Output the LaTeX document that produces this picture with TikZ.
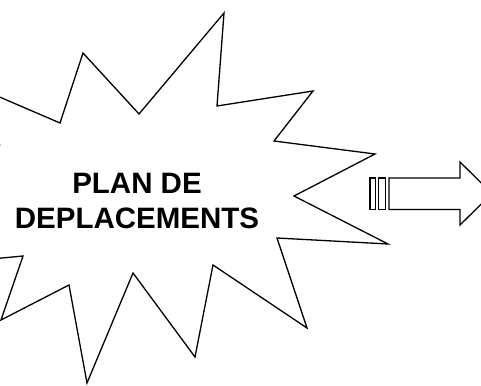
\documentclass[tikz,border=0pt]{standalone}
\usepackage{fontspec}
\setmainfont{Liberation Sans}
\usetikzlibrary{positioning}
\tikzset{
  burst/.style={draw=black, line width=1.3pt, line join=miter, fill=white},
  stripe/.style={draw=black, line width=1.1pt, fill=white},
  label/.style={align=center, inner sep=0pt, font=\fontsize{29.5}{35}\selectfont\bfseries}
}
\begin{document}
\begin{tikzpicture}[x=1pt, y=-1pt]

            % Cadre de l'image
            \useasboundingbox (0,0) rectangle (481,385);
            \clip (0,0) rectangle (481,385);

            % Explosion
            \draw [burst] (60,123) -- (83,53) -- (139,114) -- (224,13) -- (217,106) -- (313,91)
              -- (274,141) -- (375,154) -- (294,196) -- (388,244) -- (277,238) -- (307,328)
              -- (213,265) -- (195,357) -- (133,273) -- (87,383) -- (69,285) -- (1,320)
              -- (23,256) -- (-40,262) -- (-0.3,145) -- (-40,80) -- cycle;

            % Texte
            \node (plan) [label] at (137,200.5) {PLAN DE\\DEPLACEMENTS};

            % Fleche rayee
            \draw [stripe] (370,178) rectangle (375.5,209.5);
            \draw [stripe] (378.5,178) rectangle (385.5,209.5);
            \draw [burst] (389,178) -- (460,178) -- (460,162) -- (492,193.5) -- (460,225)
              -- (460,209.5) -- (389,209.5) -- cycle;

\end{tikzpicture}
\end{document}
